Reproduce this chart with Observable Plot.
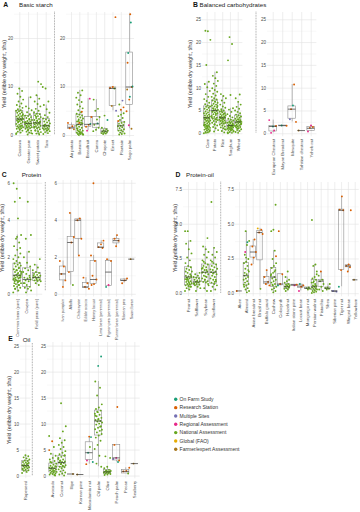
<!DOCTYPE html>
<html><head><meta charset="utf-8">
<script src="https://cdn.jsdelivr.net/npm/d3@7"></script>
<script src="https://cdn.jsdelivr.net/npm/@observablehq/plot@0.6"></script>
<style>
body{margin:0;background:#fff;}
#chart{position:relative;width:360px;height:512px;overflow:hidden;background:#fff;font-family:"Liberation Sans",Arial,sans-serif;}
</style></head><body><div id="chart"></div>
<script>
const FONT = '"Liberation Sans", Arial, sans-serif';
const sources = ["On Farm Study","Research Station","Multiple Sites","Regional Assessment","National Assessment","Global (FAO)","Farmer/expert Assessment"];
const sourceColors = ["#1b9e77","#d95f02","#7570b3","#e7298a","#66a61e","#e6ab02","#a6761d"];

// ---------- A: Basic starch ----------
const starchMajor = ["Cassava","Greater yam","Sweet potato","Taro"];
const starchMajorPts = [
 ["Cassava",4,[0.3,0.6,0.8,1.0,1.2,1.4,1.5,1.6,1.7,1.8,1.9,2.0,2.2,2.4,2.5,2.7,2.8,3.0,3.1,3.2,3.3,3.4,3.4,3.5,3.6,3.8,3.9,4.0,4.2,4.4,4.5,4.7,4.8,5.0,5.1,5.2,5.4,5.7,6.0,6.3,6.6,7.0,7.4,8.0,8.6,9.2,9.7,0.5,2.1,2.9,4.1,1.3]],
 ["Greater yam",4,[0.2,0.4,0.6,0.8,1.0,1.2,1.4,1.5,1.6,1.7,1.9,2.0,2.1,2.2,2.3,2.4,2.5,2.5,2.6,2.8,2.9,3.0,3.2,3.4,3.6,3.8,4.0,4.1,4.4,4.8,5.2,5.6,6.0,7.9,1.1,2.7,3.3,1.8,0.5]],
 ["Sweet potato",4,[0.2,0.4,0.7,0.9,1.1,1.3,1.5,1.6,1.7,1.9,2.0,2.2,2.3,2.4,2.5,2.6,2.6,2.7,2.9,3.0,3.2,3.4,3.6,3.8,4.0,4.2,4.4,4.5,4.8,5.1,5.5,6.0,6.5,7.0,7.6,8.3,10.6,11.1,1.0,2.8,3.1,1.8,0.5,3.9]],
 ["Taro",4,[0.3,0.5,0.7,0.9,1.0,1.2,1.3,1.4,1.5,1.6,1.8,1.9,2.0,2.0,2.1,2.3,2.5,2.7,2.9,3.1,3.3,3.5,3.8,4.2,4.7,5.4,6.3,7.0,9.7,10.0,1.1,2.2]]
];
const starchMajorBoxes = [
 ["Cassava",0.3,1.8,3.4,5.1,9.7],["Greater yam",0.2,1.6,2.5,4.0,7.9],
 ["Sweet potato",0.2,1.6,2.6,4.4,8.3],["Taro",0.3,1.3,2.0,3.4,6.3]
];
const starchMinor = ["Air potato","Banana","Breadfruit","Canna","Chayote","Enset","Plantain","Sago palm"];
const starchMinorPts = [
 ["Air potato",1,[2.6,1.9,1.5]],["Air potato",6,[1.3]],
 ["Banana",4,[0.1,0.2,0.3,0.3,0.4,0.5,0.6,0.7,0.9,1.0,1.2,1.4,1.6,1.8,2.0,2.2,2.3,2.5,2.7,2.9,3.1,3.3,3.5,3.7,3.9,4.1,4.3,4.5,4.8,5.2,5.6,6.0,6.4,6.9,7.3,7.8,8.3,8.8,9.3,0.8,1.5,2.6,3.0,0.2,0.6,1.1]],
 ["Banana",1,[4.9,2.6]],
 ["Breadfruit",3,[7.6,1.0]],["Breadfruit",1,[3.8,2.2,1.8]],["Breadfruit",0,[2.4]],
 ["Canna",4,[7.4,5.5,5.1,3.8,3.3,2.2,1.6,1.2,0.9]],["Canna",0,[2.5]],
 ["Chayote",4,[4.1,1.6,1.3,1.1,1.0,0.9,0.8,0.7,0.6,0.5,0.4,0.3]],["Chayote",0,[3.2]],
 ["Enset",1,[24.4,10.0,9.8]],["Enset",4,[9.7]],["Enset",6,[6.1]],["Enset",2,[5.1]],
 ["Plantain",4,[6.4,4.6,4.3,4.0,3.6,3.2,2.8,2.6,2.4,2.2,2.0,1.9,1.7,1.5,1.3,1.1,1.0,0.8,0.6,0.4,0.3,0.2]],
 ["Plantain",1,[5.8,5.3,3.0]],["Plantain",2,[7.2]],
 ["Sago palm",1,[25.0,15.0,10.0,7.4,5.0]],["Sago palm",0,[23.3,17.0,10.1,8.0]],["Sago palm",6,[9.5,1.4]],["Sago palm",3,[2.1]]
];
const starchMinorBoxes = [
 ["Air potato",1.3,1.35,1.7,2.1,2.6],["Banana",0.1,0.4,2.3,4.3,9.3],["Breadfruit",1.0,1.8,2.3,3.8,7.6],
 ["Canna",0.9,1.6,2.4,3.8,7.4],["Chayote",0.3,0.4,0.9,1.3,1.6],["Enset",5.1,6.1,9.7,9.9,10.0],
 ["Plantain",0.2,1.0,2.0,2.7,5.3],["Sago palm",1.4,6.3,10.0,17.1,25.0]
];

// ---------- B: Balanced carbohydrates ----------
const carbMajor = ["Corn","Potato","Rice","Sorghum","Wheat"];
const carbMajorPts = [
 ["Corn",4,[0.1,0.3,0.4,0.6,0.7,0.9,1.0,1.1,1.3,1.4,1.5,1.6,1.7,1.8,1.9,2.0,2.2,2.3,2.5,2.6,2.8,2.9,3.0,3.2,3.3,3.4,3.5,3.5,3.6,3.8,3.9,4.0,4.2,4.4,4.5,4.7,4.9,5.1,5.3,5.5,5.7,5.9,6.0,6.2,6.5,6.8,7.2,7.6,8.1,8.7,9.4,10.2,10.9,11.4,15.1,20.6,22.5,22.6,0.5,1.2,2.1,2.7,0.2,0.8,1.6,3.1]],
 ["Potato",4,[0.5,0.8,1.2,1.5,1.8,2.1,2.4,2.6,2.8,3.0,3.2,3.3,3.5,3.7,3.9,4.1,4.3,4.5,4.7,4.8,5.0,5.1,5.2,5.4,5.6,5.8,6.0,6.2,6.4,6.6,6.8,7.0,7.3,7.5,7.8,8.1,8.4,8.8,9.2,9.6,10.0,10.5,11.0,11.6,12.2,12.7,13.5,2.0,3.6,4.4,5.5,6.1,7.1,4.9,3.1]],
 ["Rice",4,[0.3,0.6,0.9,1.2,1.4,1.6,1.8,2.0,2.2,2.3,2.5,2.6,2.8,2.9,3.0,3.1,3.3,3.4,3.5,3.5,3.6,3.8,3.9,4.0,4.2,4.3,4.5,4.7,4.9,5.1,5.4,5.7,6.0,6.4,6.8,7.3,7.8,8.3,8.7,1.0,2.7,3.7,4.4,5.0,2.4,3.2]],
 ["Sorghum",4,[0.1,0.2,0.4,0.5,0.7,0.8,0.9,1.0,1.1,1.2,1.3,1.4,1.5,1.6,1.7,1.8,1.8,1.9,2.0,2.1,2.3,2.4,2.6,2.7,2.9,3.1,3.3,3.6,3.9,4.3,4.8,5.3,5.6,8.5,16.1,19.7,21.2,0.6,1.0,1.4,2.2,2.5,0.3,1.6]],
 ["Wheat",4,[0.2,0.4,0.6,0.8,1.0,1.2,1.4,1.5,1.6,1.7,1.9,2.0,2.1,2.3,2.4,2.5,2.6,2.6,2.7,2.9,3.0,3.2,3.3,3.5,3.7,3.8,4.0,4.2,4.5,4.8,5.1,5.5,5.9,6.4,7.0,7.8,8.6,1.1,2.2,3.1,1.8,2.8]]
];
const carbMajorBoxes = [
 ["Corn",0.1,1.7,3.5,6.0,11.4],["Potato",0.5,3.3,5.1,7.3,13.5],["Rice",0.3,2.2,3.5,4.7,8.3],
 ["Sorghum",0.1,1.1,1.8,2.9,5.6],["Wheat",0.2,1.6,2.6,4.0,7.0]
];
const carbMinor = ["European Chestnut","Mayan Breadnut","Mesquite","Tahitian chestnut","Yeheb nut"];
const carbMinorPts = [
 ["European Chestnut",3,[3.0,0.7,0.2]],["European Chestnut",1,[1.7]],["European Chestnut",0,[1.6]],
 ["Mayan Breadnut",0,[1.8]],["Mayan Breadnut",1,[1.75]],
 ["Mesquite",1,[10.8,5.4,2.6]],["Mesquite",0,[6.2]],["Mesquite",2,[3.2]],
 ["Tahitian chestnut",6,[0.7]],
 ["Yeheb nut",3,[1.8,0.5]],["Yeheb nut",1,[1.5,1.3]]
];
const carbMinorBoxes = [
 ["European Chestnut",0.2,0.5,1.6,1.7,3.0],["Mayan Breadnut",1.75,1.75,1.78,1.8,1.8],
 ["Mesquite",2.6,3.3,5.4,6.0,10.8],["Tahitian chestnut",0.7,0.7,0.7,0.7,0.7],["Yeheb nut",0.5,0.6,1.2,1.5,1.8]
];

// ---------- C: Protein ----------
const proteinMajor = ["Common bean (pure)","Cowpea","Field peas (pure)"];
const proteinMajorPts = [
 ["Common bean (pure)",4,[0.1,0.2,0.3,0.35,0.4,0.45,0.5,0.55,0.6,0.65,0.7,0.72,0.75,0.8,0.85,0.9,0.92,0.95,1.0,1.02,1.05,1.1,1.15,1.2,1.25,1.3,1.35,1.4,1.5,1.55,1.6,1.66,1.7,1.8,1.9,2.0,2.1,2.2,2.4,2.6,2.8,3.0,3.2,4.1,5.0,5.2,5.7,6.0,0.5,0.8,1.0,1.1,0.6,0.9,1.3,1.2,0.7,0.3,2.5,3.1,0.85,1.45]],
 ["Cowpea",4,[0.1,0.2,0.3,0.35,0.4,0.5,0.6,0.7,0.75,0.8,0.85,0.9,1.0,1.1,1.2,1.3,1.4,1.5,1.7,2.0,2.3,3.0,3.2,5.0,0.6,0.9]],
 ["Field peas (pure)",4,[0.5,0.6,0.7,0.72,0.75,0.8,0.85,0.9,0.92,0.95,1.0,1.05,1.1,1.15,1.2,1.3,1.45,1.6,1.9,0.8,1.0]]
];
const proteinMajorBoxes = [
 ["Common bean (pure)",0.1,0.72,1.03,1.66,3.2],["Cowpea",0.1,0.4,0.8,1.4,2.3],["Field peas (pure)",0.5,0.72,0.9,1.15,1.6]
];
const proteinMinor = ["Ivan pumpkin","Alfalfa","Chilacayote","Edible acacia","Honey locust","Lima bean (perennial)","Pigeon pea (perennial)","Runner bean (perennial)","Siberian pea","Sword bean"];
const proteinMinorPts = [
 ["Ivan pumpkin",1,[1.8,1.5,1.1,0.75,0.4]],
 ["Alfalfa",1,[4.4,3.1,2.8,1.2]],["Alfalfa",4,[0.5]],
 ["Chilacayote",1,[4.1,4.0,3.0,2.1]],
 ["Edible acacia",1,[0.9,0.6,0.4,0.3]],
 ["Honey locust",1,[6.0,2.1,1.8,1.0,0.8,0.55,0.5]],
 ["Lima bean (perennial)",1,[2.9,2.7,2.55,2.5]],
 ["Pigeon pea (perennial)",1,[1.9,1.8]],["Pigeon pea (perennial)",3,[0.5]],["Pigeon pea (perennial)",0,[0.4]],
 ["Runner bean (perennial)",1,[3.2,3.0,2.9,2.6]],
 ["Siberian pea",1,[0.85,0.75,0.6]],
 ["Sword bean",6,[1.9]]
];
const proteinMinorBoxes = [
 ["Ivan pumpkin",0.4,0.75,1.1,1.5,1.8],["Alfalfa",0.5,1.2,2.8,3.1,4.4],["Chilacayote",2.1,3.0,4.0,4.05,4.1],
 ["Edible acacia",0.3,0.35,0.4,0.6,0.9],["Honey locust",0.5,0.55,0.8,1.8,2.1],["Lima bean (perennial)",2.5,2.5,2.55,2.75,2.9],
 ["Pigeon pea (perennial)",0.4,0.45,1.2,1.8,1.9],["Runner bean (perennial)",2.6,2.75,2.9,3.0,3.2],
 ["Siberian pea",0.6,0.72,0.75,0.8,0.85],["Sword bean",1.9,1.9,1.9,1.9,1.9]
];

// ---------- D: Protein-oil ----------
const oilProtMajor = ["Peanut","Safflower","Soybean","Sunflower"];
const oilProtMajorPts = [
 ["Peanut",4,[0.2,0.3,0.4,0.5,0.55,0.6,0.65,0.7,0.75,0.8,0.85,0.9,1.0,1.05,1.1,1.15,1.2,1.25,1.3,1.4,1.5,1.6,1.7,1.8,1.9,2.0,2.2,2.4,2.6,2.9,3.2,3.6,3.8,4.5,4.5,0.7,1.0,1.3,0.9,1.6,0.5,1.1]],
 ["Safflower",4,[0.2,0.4,0.5,0.6,0.65,0.7,0.75,0.8,0.85,0.9,0.95,1.0,1.1,1.15,1.2,1.3,1.4,1.5,0.85,0.7]],
 ["Soybean",4,[0.2,0.4,0.6,0.8,0.85,0.9,1.0,1.1,1.2,1.3,1.4,1.5,1.55,1.6,1.7,1.8,1.9,2.0,2.1,2.2,2.4,2.6,2.8,3.0,3.2,3.4,4.0,1.0,1.5,1.7,2.3,0.7,1.25,1.85]],
 ["Sunflower",4,[0.2,0.3,0.5,0.6,0.7,0.8,0.9,1.0,1.1,1.2,1.3,1.4,1.5,1.55,1.6,1.7,1.8,1.9,2.0,2.1,2.2,2.4,2.6,2.8,3.0,3.3,6.6,1.0,1.45,1.75,0.85,2.3]]
];
const oilProtMajorBoxes = [
 ["Peanut",0.2,0.6,1.2,1.9,3.8],["Safflower",0.2,0.6,0.85,1.15,1.5],["Soybean",0.2,0.85,1.55,2.1,3.4],["Sunflower",0.2,0.7,1.55,2.1,3.3]
];
const oilProtMinor = ["Akee","Almond","Asian breadnut","Brazil nut","Buffalo gourd","Cashew","Colocynth","Hazelnut","Italian stone pine","Locust bean","Mongongo nut","Persian walnut","Pistachio","Shea","Siberian pine","Tiger nut","Winged bean","Yellowhorn"];
const oilProtMinorPts = [
 ["Akee",1,[0.2]],
 ["Almond",4,[4.5,3.8,3.5,2.8,2.5,2.3,2.2,2.0,1.8,1.6,1.4,1.3,1.2,1.1,1.0,0.9,0.8,0.7,0.6,0.5,0.4,0.3,0.2,0.1,1.5,1.7,2.6,0.65]],
 ["Almond",0,[3.7]],["Almond",3,[3.0]],
 ["Asian breadnut",1,[3.9,3.4,3.0,2.6,2.1]],
 ["Brazil nut",5,[4.7]],["Brazil nut",1,[4.6,4.4,4.3]],["Brazil nut",4,[0.35]],
 ["Buffalo gourd",1,[1.7,1.2,0.85,0.7,0.6]],
 ["Cashew",4,[6.4,4.6,4.5,3.1,2.5,2.2,2.0,1.85,1.7,1.5,1.3,1.2,1.1,1.0,0.9,0.8,0.7,0.6,0.5,0.4,0.3,0.2,0.1,1.4,1.6,0.65]],
 ["Cashew",1,[2.7]],
 ["Colocynth",1,[4.5,1.4,0.7]],["Colocynth",0,[0.6]],
 ["Hazelnut",4,[1.6,1.2,1.0,0.9,0.8,0.7,0.65,0.6,0.55,0.5,0.45,0.4,0.35,0.3,0.2,0.5,0.6]],
 ["Italian stone pine",1,[0.65]],["Italian stone pine",3,[0.6]],
 ["Locust bean",0,[0.7]],["Locust bean",1,[0.6,0.5]],["Locust bean",3,[0.2]],
 ["Mongongo nut",4,[0.45,0.4,0.35,0.3]],
 ["Persian walnut",4,[5.3,2.1,2.0,1.6,1.2,1.1,1.0,0.9,0.8,0.7,0.6,0.55,0.5,0.45,0.4,0.35,0.3,0.25,0.2,0.15,0.1,0.05,0.6,0.8,1.4]],
 ["Pistachio",1,[1.6]],["Pistachio",4,[1.3,1.0,0.9,0.7,0.5,0.3,0.2]],
 ["Shea",4,[0.7,0.45,0.4,0.35,0.3]],
 ["Siberian pine",2,[0.2,0.15]],
 ["Tiger nut",1,[7.0,6.05,6.0,1.7]],["Tiger nut",0,[0.5]],
 ["Winged bean",1,[6.0,2.1,2.0,1.9,1.6]],
 ["Yellowhorn",6,[1.0]]
];
const oilProtMinorBoxes = [
 ["Akee",0.2,0.2,0.2,0.2,0.2],["Almond",0.1,0.6,1.3,2.2,4.5],["Asian breadnut",2.1,2.6,3.0,3.4,3.9],
 ["Brazil nut",0.35,2.4,4.4,4.5,4.7],["Buffalo gourd",0.6,0.7,0.85,1.2,1.7],["Cashew",0.05,0.5,1.2,1.85,3.1],
 ["Colocynth",0.6,0.6,0.7,1.4,1.4],["Hazelnut",0.2,0.35,0.5,0.7,1.2],["Italian stone pine",0.6,0.6,0.62,0.65,0.65],
 ["Locust bean",0.2,0.4,0.55,0.65,0.7],["Mongongo nut",0.3,0.35,0.4,0.45,0.45],["Persian walnut",0.05,0.25,0.5,1.0,2.1],
 ["Pistachio",0.2,0.5,0.9,1.0,1.6],["Shea",0.3,0.35,0.4,0.45,0.7],["Siberian pine",0.15,0.15,0.18,0.2,0.2],
 ["Tiger nut",0.5,1.7,6.0,6.05,7.0],["Winged bean",1.6,1.9,2.0,2.05,2.1],["Yellowhorn",1.0,1.0,1.0,1.0,1.0]
];

// ---------- E: Oil ----------
const oilMajor = ["Rapeseed"];
const oilMajorPts = [
 ["Rapeseed",4,[0.6,0.8,1.0,1.1,1.2,1.3,1.5,1.6,1.7,1.8,1.9,2.0,2.0,2.1,2.2,2.3,2.5,2.6,2.7,2.9,3.0,3.2,3.4,3.6,3.8,4.0,1.4,2.4]]
];
const oilMajorBoxes = [["Rapeseed",0.6,1.0,2.0,2.9,4.0]];
const oilMinor = ["Avocado","Coconut","Illipe","Korean pine","Macadamia nut","Oil palm","Olive","Peach palm","Pecan","Seaberry"];
const oilMinorPts = [
 ["Avocado",4,[7.7,5.6,4.3,3.9,3.5,3.2,2.9,2.6,2.4,2.2,2.0,1.9,1.7,1.6,1.5,1.4,1.3,1.2,1.1,1.0,0.9,0.8,0.7,0.6,0.5,0.4,0.3,0.2,1.5,1.8,1.0,2.7,0.1]],
 ["Avocado",1,[6.7,5.0]],
 ["Coconut",4,[14.0,9.6,8.6,7.3,6.9,6.4,6.0,5.6,5.2,4.8,4.5,4.2,3.9,3.7,3.5,3.2,3.0,2.8,2.7,2.6,2.5,2.3,2.1,2.0,1.8,1.7,1.5,1.3,1.1,0.9,0.7,0.5,0.3,0.1,2.4,3.3,1.9,2.9,4.0]],
 ["Illipe",6,[0.4]],
 ["Korean pine",6,[0.3]],
 ["Macadamia nut",1,[7.6,2.3]],["Macadamia nut",0,[7.5,4.5,2.7]],["Macadamia nut",4,[5.6]],["Macadamia nut",3,[3.0]],
 ["Oil palm",0,[23.0,21.2]],
 ["Oil palm",4,[18.2,17.0,15.5,13.8,13.2,12.9,12.6,12.3,12.0,11.8,11.5,11.2,11.0,10.8,10.6,10.5,10.3,10.1,9.9,9.6,9.3,9.0,8.7,8.4,8.1,7.8,7.4,6.8,6.0,5.2,3.9,2.4,1.8,10.9,11.6,9.5,12.4,8.9]],
 ["Olive",4,[3.8,3.5,1.8,1.5,1.2,1.1,1.0,0.9,0.85,0.8,0.75,0.7,0.6,0.5,0.4,0.3,0.2,0.9,1.0]],
 ["Peach palm",1,[13.3,6.0,3.0]],["Peach palm",3,[3.5]],["Peach palm",2,[3.3]],["Peach palm",0,[2.7]],
 ["Pecan",1,[1.6,1.0,0.9]],["Pecan",4,[0.5]],
 ["Seaberry",6,[2.4]]
];
const oilMinorBoxes = [
 ["Avocado",0.1,0.7,1.5,2.4,4.3],["Coconut",0.1,1.7,2.6,3.9,6.9],["Illipe",0.4,0.4,0.4,0.4,0.4],
 ["Korean pine",0.3,0.3,0.3,0.3,0.3],["Macadamia nut",2.3,3.1,4.5,6.5,7.6],["Oil palm",1.8,7.8,10.6,12.6,18.2],
 ["Olive",0.2,0.4,0.8,1.2,1.8],["Peach palm",2.7,3.0,3.5,6.0,6.0],["Pecan",0.5,0.5,0.9,1.2,1.6],["Seaberry",2.4,2.4,2.4,2.4,2.4]
];

// ---------- layout ----------
const chart = document.getElementById("chart");

function makeRows(cats, pts) {
  const count = new Map(), rows = [];
  for (const [cat, s, vals] of pts) {
    const i = cats.indexOf(cat);
    for (const v of vals) {
      const k = count.get(i) || 0; count.set(i, k + 1);
      const f = (k * 0.6180339887 + i * 0.37) % 1;
      rows.push({i, jx: i + (f - 0.5) * 0.84, v, source: sources[s]});
    }
  }
  return rows;
}
function makeBoxes(cats, boxes) {
  return boxes.map(([cat, lo, q1, med, q3, hi]) => ({i: cats.indexOf(cat), lo, q1, med, q3, hi}));
}

function subplot(c) {
  const n = c.cats.length;
  const mL = 18, mR = 1, mT = 1, mB = c.clip - c.bottom;
  const rows = makeRows(c.cats, c.pts);
  const boxes = makeBoxes(c.cats, c.boxes);
  const idx = d3.range(n);
  const svg = Plot.plot({
    width: mL + (c.right - c.left) + mR,
    height: mT + (c.bottom - c.top) + mB,
    marginLeft: mL, marginRight: mR, marginTop: mT, marginBottom: mB,
    x: {type: "linear", domain: [-0.6, n - 0.4]},
    y: {type: "linear", domain: c.domain},
    color: {domain: sources, range: sourceColors},
    style: {background: "transparent", fontFamily: FONT, overflow: "hidden"},
    marks: [
      Plot.gridY(c.minor, {stroke: "#eeeeee", strokeOpacity: 1, strokeWidth: 0.4}),
      Plot.gridY(c.ticks, {stroke: "#e3e3e3", strokeOpacity: 1, strokeWidth: 0.6}),
      Plot.gridX(idx, {stroke: "#e3e3e3", strokeOpacity: 1, strokeWidth: 0.6}),
      Plot.ruleX(boxes, {x: "i", y1: "lo", y2: "q1", stroke: "#8c8c8c", strokeWidth: 0.6}),
      Plot.ruleX(boxes, {x: "i", y1: "q3", y2: "hi", stroke: "#8c8c8c", strokeWidth: 0.6}),
      Plot.rect(boxes, {x1: d => d.i - 0.4, x2: d => d.i + 0.4, y1: "q1", y2: "q3", fill: "none", stroke: "#8c8c8c", strokeWidth: 0.6}),
      Plot.dot(rows, {x: "jx", y: "v", r: 0.95, fill: "source"}),
      Plot.ruleY(boxes, {y: "med", x1: d => d.i - 0.4, x2: d => d.i + 0.4, stroke: "#333", strokeWidth: 0.7}),
      Plot.axisY(c.ticks, {tickSize: 0, tickPadding: 1.5, fontSize: 4.6, fill: "#4d4d4d", label: null, tickFormat: c.fmt}),
      Plot.axisX(idx, {tickSize: 0, tickPadding: 2, tickRotate: -90, fontSize: c.labelSize || 4.3, fill: "#4d4d4d", label: null, tickFormat: i => c.cats[i]})
    ]
  });
  svg.style.position = "absolute";
  svg.style.left = (c.left - mL) + "px";
  svg.style.top = (c.top - mT) + "px";
  svg.style.maxWidth = "none";
  chart.appendChild(svg);
}

const tA = [0, 10, 20], mA = [5, 15, 25];
const t25 = [0, 5, 10, 15, 20, 25], m25 = [2.5, 7.5, 12.5, 17.5, 22.5];
const tC = [0, 2, 4, 6], mC = [1, 3, 5];
const tD = [0, 2.5, 5, 7.5], mD = [1.25, 3.75, 6.25];

[
 {cats: starchMajor, pts: starchMajorPts, boxes: starchMajorBoxes, left: 14.2, right: 51.2, top: 11.7, bottom: 137, domain: [-0.47, 25.36], ticks: tA, minor: mA, clip: 170},
 {cats: starchMinor, pts: starchMinorPts, boxes: starchMinorBoxes, left: 66.2, right: 134.3, top: 11.7, bottom: 137, domain: [-0.47, 25.36], ticks: tA, minor: mA, clip: 170},
 {cats: carbMajor, pts: carbMajorPts, boxes: carbMajorBoxes, left: 201.6, right: 242, top: 11.7, bottom: 136, domain: [-0.66, 26.6], ticks: t25, minor: m25, clip: 170},
 {cats: carbMinor, pts: carbMinorPts, boxes: carbMinorBoxes, left: 267.3, right: 316.7, top: 11.7, bottom: 136, domain: [-0.66, 26.6], ticks: t25, minor: m25, clip: 181, labelSize: 4.2},
 {cats: proteinMajor, pts: proteinMajorPts, boxes: proteinMajorBoxes, left: 11.2, right: 42.4, top: 179.5, bottom: 296, domain: [-0.146, 6.15], ticks: tC, minor: mC, clip: 342, labelSize: 4.0},
 {cats: proteinMinor, pts: proteinMinorPts, boxes: proteinMinorBoxes, left: 58.1, right: 135.9, top: 179.5, bottom: 296, domain: [-0.146, 6.15], ticks: tC, minor: mC, clip: 342, labelSize: 3.8},
 {cats: oilProtMajor, pts: oilProtMajorPts, boxes: oilProtMajorBoxes, left: 182.5, right: 217.7, top: 181.7, bottom: 296, domain: [-0.22, 8.0], ticks: tD, minor: mD, fmt: ".1f", clip: 340},
 {cats: oilProtMinor, pts: oilProtMinorPts, boxes: oilProtMinorBoxes, left: 235.2, right: 359, top: 181.7, bottom: 296, domain: [-0.22, 8.0], ticks: tD, minor: mD, fmt: ".1f", clip: 340},
 {cats: oilMajor, pts: oilMajorPts, boxes: oilMajorBoxes, left: 20, right: 30.6, top: 341.7, bottom: 478, domain: [-0.52, 25.7], ticks: t25, minor: m25, clip: 512},
 {cats: oilMinor, pts: oilMinorPts, boxes: oilMinorBoxes, left: 47.2, right: 140, top: 341.7, bottom: 478, domain: [-0.52, 25.7], ticks: t25, minor: m25, clip: 512}
].forEach(subplot);

// ---------- overlay: titles, axis titles, separators, legend ----------
const over = d3.select(chart).append("svg")
  .attr("width", 360).attr("height", 512)
  .style("position", "absolute").style("left", "0px").style("top", "0px")
  .style("font-family", FONT).style("pointer-events", "none");

const titles = [
 ["A", 3.3, 6.8, "Basic starch", 19, 6.8],
 ["B", 193, 7.2, "Balanced carbohydrates", 199.5, 7.2],
 ["C", 1.7, 176.5, "Protein", 21.7, 177.3],
 ["D", 175.5, 176.5, "Protein-oil", 186, 176.8],
 ["E", 8.3, 341, "Oil", 22.7, 341.5]
];
for (const [L, lx, ly, T, tx, ty] of titles) {
  over.append("text").attr("x", lx).attr("y", ly).attr("font-size", 6.8).attr("font-weight", "bold").attr("fill", "#111").text(L);
  over.append("text").attr("x", tx).attr("y", ty).attr("font-size", 6.2).attr("fill", "#222").text(T);
}

const yTitle = "Yield (edible dry weight, t/ha)";
for (const [x, y] of [[6.2, 74], [192.2, 74], [4.2, 238], [177.4, 238], [11.2, 410]]) {
  over.append("text").attr("transform", `translate(${x},${y}) rotate(-90)`)
    .attr("text-anchor", "middle").attr("font-size", 5.3).attr("fill", "#333").text(yTitle);
}

for (const [x, y1, y2] of [[54.5, 11.7, 135], [256, 11.7, 133], [45.3, 182, 291], [220.7, 181.7, 293], [32.3, 343, 476]]) {
  over.append("line").attr("x1", x).attr("x2", x).attr("y1", y1).attr("y2", y2)
    .attr("stroke", "#777").attr("stroke-width", 0.7).attr("stroke-dasharray", "0.8,0.8");
}

sources.forEach((s, k) => {
  const y = 399.3 + k * 8.33;
  over.append("circle").attr("cx", 175.7).attr("cy", y).attr("r", 1.7).attr("fill", sourceColors[k]);
  over.append("text").attr("x", 179.6).attr("y", y + 1.7).attr("font-size", 5).attr("fill", "#333").text(s);
});
</script></body></html>
